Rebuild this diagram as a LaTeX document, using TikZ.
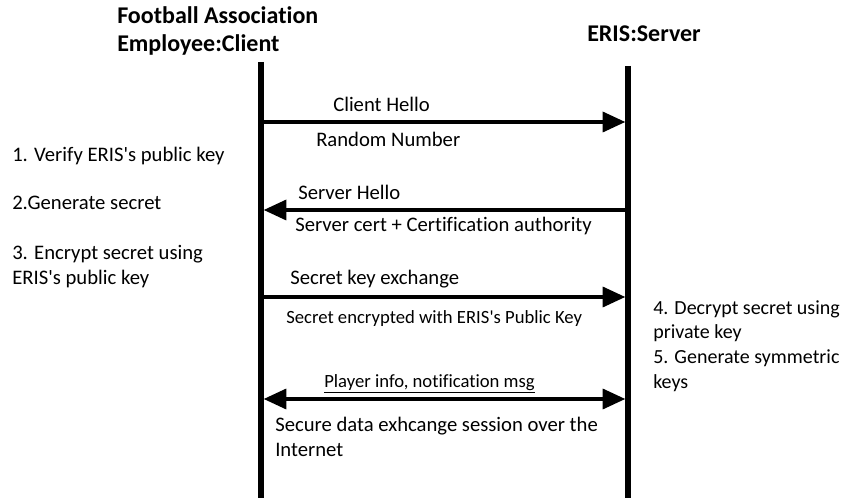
\documentclass[tikz,border=0pt]{standalone}
\usepackage{fontspec}
\setmainfont{Carlito}[Ligatures=CommonOff]
\usetikzlibrary{arrows.meta}
\usetikzlibrary{positioning}
\newcommand{\apos}{\textquotesingle}

\begin{document}
\begin{tikzpicture}[x=0.75pt,y=-0.75pt]
  \tikzset{
lifeline/.style={line width=4.2pt},
msg/.style={line width=2.6pt,-{Triangle[length=17pt,width=15pt]},shorten >=2pt},
both msg/.style={line width=2.6pt,{Triangle[length=17pt,width=15pt]}-{Triangle[length=17pt,width=15pt]},shorten >=2pt,shorten <=2pt},
actor/.style={font=\fontsize{18}{21}\selectfont\bfseries,align=left,inner sep=0,anchor=west},
lbl/.style={font=\fontsize{15.5}{18}\selectfont,inner sep=0,anchor=west},
small lbl/.style={font=\fontsize{14}{16}\selectfont,inner sep=0,anchor=west},
note/.style={font=\fontsize{15.5}{18.5}\selectfont,align=left,inner sep=0,anchor=north west}
}
  \path[use as bounding box] (0,0) rectangle (847,498);
  % actors and lifelines
  \node[actor](client) at (117,31){Football Association\\Employee:Client};
  \node[actor](server) at (587,34){ERIS:Server};
  \coordinate (cTop) at (261,62);
  \coordinate (cBot) at (261,498);
  \coordinate (sTop) at (628,66);
  \coordinate (sBot) at (628,498);
  \draw[lifeline] (cTop) -- (cBot);
  \draw[lifeline] (sTop) -- (sBot);
  % messages
  \coordinate (c1) at (261,122); \coordinate (s1) at (628,122);
  \coordinate (c2) at (261,210); \coordinate (s2) at (628,210);
  \coordinate (c3) at (261,297); \coordinate (s3) at (628,297);
  \coordinate (c4) at (261,399); \coordinate (s4) at (628,399);
  \draw[msg] (c1) -- (s1);
  \draw[msg] (s2) -- (c2);
  \draw[msg] (c3) -- (s3);
  \draw[both msg] (c4) -- (s4);
  \node[lbl](hello) at (333,104){Client Hello};
  \node[lbl](rand) at (316,139){Random Number};
  \node[lbl](shello) at (298,192){Server Hello};
  \node[lbl](cert) at (295,226){Server cert + Certification authority};
  \node[lbl](kex) at (290,279){Secret key exchange};
  \node[small lbl](enc) at (286,319){Secret encrypted with ERIS\apos s Public Key};
  \node[small lbl](info) at (324,384){\underline{Player info, notification msg}};
  \node[note](sess) at (275,417){Secure data exhcange session over the\\Internet};
  % client side steps
  \node[note](step1) at (12,147){1. Verify ERIS\apos s public key};
  \node[note](step2) at (12,196){2.Generate secret};
  \node[note](step3) at (12,245){3. Encrypt secret using\\ERIS\apos s public key};
  % server side steps
  \node[note,font=\fontsize{15}{18.5}\selectfont](step4) at (653,300){4. Decrypt secret using\\private key\\5. Generate symmetric\\keys};
\end{tikzpicture}
\end{document}
